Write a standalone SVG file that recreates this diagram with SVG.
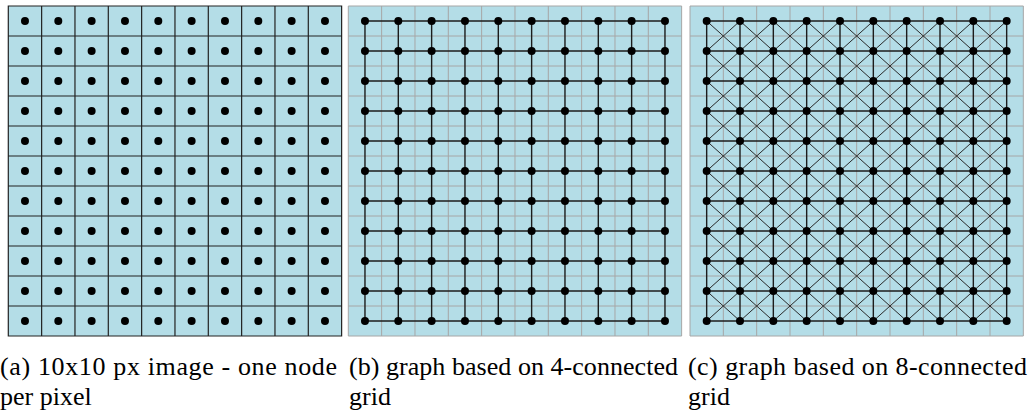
<svg xmlns="http://www.w3.org/2000/svg" width="1029" height="416" viewBox="0 0 1029 416">
<style>
  .bg { fill: #b4dde7; }
  .pix { fill: none; stroke: #222; stroke-width: 1.2; }
  .grid { fill: none; stroke: #a6a6a6; stroke-width: 1; }
  .edge { fill: none; stroke: #1c1c1c; stroke-width: 1.4; }
  .diag { fill: none; stroke: #2a2a2a; stroke-width: 1; }
  circle { fill: #000; }
  .cap { font-family: 'Liberation Serif', 'Times New Roman', Times, serif; font-size: 26px; fill: #000; }
</style>
<defs>
  <!-- cell boundaries of a 10 x 11 lattice, cells 33.33 x 30 -->
  <path id="cells" d="M0,0H333.33V330H0Z M33.33,0V330 M66.67,0V330 M100,0V330 M133.33,0V330 M166.67,0V330 M200,0V330 M233.33,0V330 M266.67,0V330 M300,0V330 M0,30H333.33 M0,60H333.33 M0,90H333.33 M0,120H333.33 M0,150H333.33 M0,180H333.33 M0,210H333.33 M0,240H333.33 M0,270H333.33 M0,300H333.33"/>
  <!-- straight rows and columns through the cell centres -->
  <path id="ortho" d="M16.67,15H316.67 M16.67,45H316.67 M16.67,75H316.67 M16.67,105H316.67 M16.67,135H316.67 M16.67,165H316.67 M16.67,195H316.67 M16.67,225H316.67 M16.67,255H316.67 M16.67,285H316.67 M16.67,315H316.67 M16.67,15V315 M50,15V315 M83.33,15V315 M116.67,15V315 M150,15V315 M183.33,15V315 M216.67,15V315 M250,15V315 M283.33,15V315 M316.67,15V315"/>
</defs>

<!-- (a) pixel image, one node per pixel -->
<g id="panel-a" transform="translate(8.3,6)">
  <rect class="bg" width="333.33" height="330"/>
  <use href="#cells" class="pix"/>
  <g id="a-nodes">
    <g id="a-r0" transform="translate(0,15)"><circle id="a0-0" cx="16.67" r="4"/><circle id="a0-1" cx="50" r="4"/><circle id="a0-2" cx="83.33" r="4"/><circle id="a0-3" cx="116.67" r="4"/><circle id="a0-4" cx="150" r="4"/><circle id="a0-5" cx="183.33" r="4"/><circle id="a0-6" cx="216.67" r="4"/><circle id="a0-7" cx="250" r="4"/><circle id="a0-8" cx="283.33" r="4"/><circle id="a0-9" cx="316.67" r="4"/></g>
    <g id="a-r1" transform="translate(0,45)"><circle id="a1-0" cx="16.67" r="4"/><circle id="a1-1" cx="50" r="4"/><circle id="a1-2" cx="83.33" r="4"/><circle id="a1-3" cx="116.67" r="4"/><circle id="a1-4" cx="150" r="4"/><circle id="a1-5" cx="183.33" r="4"/><circle id="a1-6" cx="216.67" r="4"/><circle id="a1-7" cx="250" r="4"/><circle id="a1-8" cx="283.33" r="4"/><circle id="a1-9" cx="316.67" r="4"/></g>
    <g id="a-r2" transform="translate(0,75)"><circle id="a2-0" cx="16.67" r="4"/><circle id="a2-1" cx="50" r="4"/><circle id="a2-2" cx="83.33" r="4"/><circle id="a2-3" cx="116.67" r="4"/><circle id="a2-4" cx="150" r="4"/><circle id="a2-5" cx="183.33" r="4"/><circle id="a2-6" cx="216.67" r="4"/><circle id="a2-7" cx="250" r="4"/><circle id="a2-8" cx="283.33" r="4"/><circle id="a2-9" cx="316.67" r="4"/></g>
    <g id="a-r3" transform="translate(0,105)"><circle id="a3-0" cx="16.67" r="4"/><circle id="a3-1" cx="50" r="4"/><circle id="a3-2" cx="83.33" r="4"/><circle id="a3-3" cx="116.67" r="4"/><circle id="a3-4" cx="150" r="4"/><circle id="a3-5" cx="183.33" r="4"/><circle id="a3-6" cx="216.67" r="4"/><circle id="a3-7" cx="250" r="4"/><circle id="a3-8" cx="283.33" r="4"/><circle id="a3-9" cx="316.67" r="4"/></g>
    <g id="a-r4" transform="translate(0,135)"><circle id="a4-0" cx="16.67" r="4"/><circle id="a4-1" cx="50" r="4"/><circle id="a4-2" cx="83.33" r="4"/><circle id="a4-3" cx="116.67" r="4"/><circle id="a4-4" cx="150" r="4"/><circle id="a4-5" cx="183.33" r="4"/><circle id="a4-6" cx="216.67" r="4"/><circle id="a4-7" cx="250" r="4"/><circle id="a4-8" cx="283.33" r="4"/><circle id="a4-9" cx="316.67" r="4"/></g>
    <g id="a-r5" transform="translate(0,165)"><circle id="a5-0" cx="16.67" r="4"/><circle id="a5-1" cx="50" r="4"/><circle id="a5-2" cx="83.33" r="4"/><circle id="a5-3" cx="116.67" r="4"/><circle id="a5-4" cx="150" r="4"/><circle id="a5-5" cx="183.33" r="4"/><circle id="a5-6" cx="216.67" r="4"/><circle id="a5-7" cx="250" r="4"/><circle id="a5-8" cx="283.33" r="4"/><circle id="a5-9" cx="316.67" r="4"/></g>
    <g id="a-r6" transform="translate(0,195)"><circle id="a6-0" cx="16.67" r="4"/><circle id="a6-1" cx="50" r="4"/><circle id="a6-2" cx="83.33" r="4"/><circle id="a6-3" cx="116.67" r="4"/><circle id="a6-4" cx="150" r="4"/><circle id="a6-5" cx="183.33" r="4"/><circle id="a6-6" cx="216.67" r="4"/><circle id="a6-7" cx="250" r="4"/><circle id="a6-8" cx="283.33" r="4"/><circle id="a6-9" cx="316.67" r="4"/></g>
    <g id="a-r7" transform="translate(0,225)"><circle id="a7-0" cx="16.67" r="4"/><circle id="a7-1" cx="50" r="4"/><circle id="a7-2" cx="83.33" r="4"/><circle id="a7-3" cx="116.67" r="4"/><circle id="a7-4" cx="150" r="4"/><circle id="a7-5" cx="183.33" r="4"/><circle id="a7-6" cx="216.67" r="4"/><circle id="a7-7" cx="250" r="4"/><circle id="a7-8" cx="283.33" r="4"/><circle id="a7-9" cx="316.67" r="4"/></g>
    <g id="a-r8" transform="translate(0,255)"><circle id="a8-0" cx="16.67" r="4"/><circle id="a8-1" cx="50" r="4"/><circle id="a8-2" cx="83.33" r="4"/><circle id="a8-3" cx="116.67" r="4"/><circle id="a8-4" cx="150" r="4"/><circle id="a8-5" cx="183.33" r="4"/><circle id="a8-6" cx="216.67" r="4"/><circle id="a8-7" cx="250" r="4"/><circle id="a8-8" cx="283.33" r="4"/><circle id="a8-9" cx="316.67" r="4"/></g>
    <g id="a-r9" transform="translate(0,285)"><circle id="a9-0" cx="16.67" r="4"/><circle id="a9-1" cx="50" r="4"/><circle id="a9-2" cx="83.33" r="4"/><circle id="a9-3" cx="116.67" r="4"/><circle id="a9-4" cx="150" r="4"/><circle id="a9-5" cx="183.33" r="4"/><circle id="a9-6" cx="216.67" r="4"/><circle id="a9-7" cx="250" r="4"/><circle id="a9-8" cx="283.33" r="4"/><circle id="a9-9" cx="316.67" r="4"/></g>
    <g id="a-r10" transform="translate(0,315)"><circle id="a10-0" cx="16.67" r="4"/><circle id="a10-1" cx="50" r="4"/><circle id="a10-2" cx="83.33" r="4"/><circle id="a10-3" cx="116.67" r="4"/><circle id="a10-4" cx="150" r="4"/><circle id="a10-5" cx="183.33" r="4"/><circle id="a10-6" cx="216.67" r="4"/><circle id="a10-7" cx="250" r="4"/><circle id="a10-8" cx="283.33" r="4"/><circle id="a10-9" cx="316.67" r="4"/></g>
  </g>
</g>

<!-- (b) 4-connected grid graph -->
<g id="panel-b" transform="translate(348.3,6)">
  <rect class="bg" width="333.33" height="330"/>
  <use href="#cells" class="grid"/>
  <g id="b-connectors">
    <use href="#ortho" class="edge"/>
  </g>
  <g id="b-nodes">
    <g id="b-r0" transform="translate(0,15)"><circle id="b0-0" cx="16.67" r="4"/><circle id="b0-1" cx="50" r="4"/><circle id="b0-2" cx="83.33" r="4"/><circle id="b0-3" cx="116.67" r="4"/><circle id="b0-4" cx="150" r="4"/><circle id="b0-5" cx="183.33" r="4"/><circle id="b0-6" cx="216.67" r="4"/><circle id="b0-7" cx="250" r="4"/><circle id="b0-8" cx="283.33" r="4"/><circle id="b0-9" cx="316.67" r="4"/></g>
    <g id="b-r1" transform="translate(0,45)"><circle id="b1-0" cx="16.67" r="4"/><circle id="b1-1" cx="50" r="4"/><circle id="b1-2" cx="83.33" r="4"/><circle id="b1-3" cx="116.67" r="4"/><circle id="b1-4" cx="150" r="4"/><circle id="b1-5" cx="183.33" r="4"/><circle id="b1-6" cx="216.67" r="4"/><circle id="b1-7" cx="250" r="4"/><circle id="b1-8" cx="283.33" r="4"/><circle id="b1-9" cx="316.67" r="4"/></g>
    <g id="b-r2" transform="translate(0,75)"><circle id="b2-0" cx="16.67" r="4"/><circle id="b2-1" cx="50" r="4"/><circle id="b2-2" cx="83.33" r="4"/><circle id="b2-3" cx="116.67" r="4"/><circle id="b2-4" cx="150" r="4"/><circle id="b2-5" cx="183.33" r="4"/><circle id="b2-6" cx="216.67" r="4"/><circle id="b2-7" cx="250" r="4"/><circle id="b2-8" cx="283.33" r="4"/><circle id="b2-9" cx="316.67" r="4"/></g>
    <g id="b-r3" transform="translate(0,105)"><circle id="b3-0" cx="16.67" r="4"/><circle id="b3-1" cx="50" r="4"/><circle id="b3-2" cx="83.33" r="4"/><circle id="b3-3" cx="116.67" r="4"/><circle id="b3-4" cx="150" r="4"/><circle id="b3-5" cx="183.33" r="4"/><circle id="b3-6" cx="216.67" r="4"/><circle id="b3-7" cx="250" r="4"/><circle id="b3-8" cx="283.33" r="4"/><circle id="b3-9" cx="316.67" r="4"/></g>
    <g id="b-r4" transform="translate(0,135)"><circle id="b4-0" cx="16.67" r="4"/><circle id="b4-1" cx="50" r="4"/><circle id="b4-2" cx="83.33" r="4"/><circle id="b4-3" cx="116.67" r="4"/><circle id="b4-4" cx="150" r="4"/><circle id="b4-5" cx="183.33" r="4"/><circle id="b4-6" cx="216.67" r="4"/><circle id="b4-7" cx="250" r="4"/><circle id="b4-8" cx="283.33" r="4"/><circle id="b4-9" cx="316.67" r="4"/></g>
    <g id="b-r5" transform="translate(0,165)"><circle id="b5-0" cx="16.67" r="4"/><circle id="b5-1" cx="50" r="4"/><circle id="b5-2" cx="83.33" r="4"/><circle id="b5-3" cx="116.67" r="4"/><circle id="b5-4" cx="150" r="4"/><circle id="b5-5" cx="183.33" r="4"/><circle id="b5-6" cx="216.67" r="4"/><circle id="b5-7" cx="250" r="4"/><circle id="b5-8" cx="283.33" r="4"/><circle id="b5-9" cx="316.67" r="4"/></g>
    <g id="b-r6" transform="translate(0,195)"><circle id="b6-0" cx="16.67" r="4"/><circle id="b6-1" cx="50" r="4"/><circle id="b6-2" cx="83.33" r="4"/><circle id="b6-3" cx="116.67" r="4"/><circle id="b6-4" cx="150" r="4"/><circle id="b6-5" cx="183.33" r="4"/><circle id="b6-6" cx="216.67" r="4"/><circle id="b6-7" cx="250" r="4"/><circle id="b6-8" cx="283.33" r="4"/><circle id="b6-9" cx="316.67" r="4"/></g>
    <g id="b-r7" transform="translate(0,225)"><circle id="b7-0" cx="16.67" r="4"/><circle id="b7-1" cx="50" r="4"/><circle id="b7-2" cx="83.33" r="4"/><circle id="b7-3" cx="116.67" r="4"/><circle id="b7-4" cx="150" r="4"/><circle id="b7-5" cx="183.33" r="4"/><circle id="b7-6" cx="216.67" r="4"/><circle id="b7-7" cx="250" r="4"/><circle id="b7-8" cx="283.33" r="4"/><circle id="b7-9" cx="316.67" r="4"/></g>
    <g id="b-r8" transform="translate(0,255)"><circle id="b8-0" cx="16.67" r="4"/><circle id="b8-1" cx="50" r="4"/><circle id="b8-2" cx="83.33" r="4"/><circle id="b8-3" cx="116.67" r="4"/><circle id="b8-4" cx="150" r="4"/><circle id="b8-5" cx="183.33" r="4"/><circle id="b8-6" cx="216.67" r="4"/><circle id="b8-7" cx="250" r="4"/><circle id="b8-8" cx="283.33" r="4"/><circle id="b8-9" cx="316.67" r="4"/></g>
    <g id="b-r9" transform="translate(0,285)"><circle id="b9-0" cx="16.67" r="4"/><circle id="b9-1" cx="50" r="4"/><circle id="b9-2" cx="83.33" r="4"/><circle id="b9-3" cx="116.67" r="4"/><circle id="b9-4" cx="150" r="4"/><circle id="b9-5" cx="183.33" r="4"/><circle id="b9-6" cx="216.67" r="4"/><circle id="b9-7" cx="250" r="4"/><circle id="b9-8" cx="283.33" r="4"/><circle id="b9-9" cx="316.67" r="4"/></g>
    <g id="b-r10" transform="translate(0,315)"><circle id="b10-0" cx="16.67" r="4"/><circle id="b10-1" cx="50" r="4"/><circle id="b10-2" cx="83.33" r="4"/><circle id="b10-3" cx="116.67" r="4"/><circle id="b10-4" cx="150" r="4"/><circle id="b10-5" cx="183.33" r="4"/><circle id="b10-6" cx="216.67" r="4"/><circle id="b10-7" cx="250" r="4"/><circle id="b10-8" cx="283.33" r="4"/><circle id="b10-9" cx="316.67" r="4"/></g>
  </g>
</g>

<!-- (c) 8-connected grid graph -->
<g id="panel-c" transform="translate(690,6)">
  <rect class="bg" width="333.33" height="330"/>
  <use href="#cells" class="grid"/>
  <g id="c-connectors">
    <path class="diag" d="M16.67,15L316.67,285 M50,15L316.67,255 M83.33,15L316.67,225 M116.67,15L316.67,195 M150,15L316.67,165 M183.33,15L316.67,135 M216.67,15L316.67,105 M250,15L316.67,75 M283.33,15L316.67,45 M16.67,45L316.67,315 M16.67,75L283.33,315 M16.67,105L250,315 M16.67,135L216.67,315 M16.67,165L183.33,315 M16.67,195L150,315 M16.67,225L116.67,315 M16.67,255L83.33,315 M16.67,285L50,315"/>
    <path class="diag" d="M50,15L16.67,45 M83.33,15L16.67,75 M116.67,15L16.67,105 M150,15L16.67,135 M183.33,15L16.67,165 M216.67,15L16.67,195 M250,15L16.67,225 M283.33,15L16.67,255 M316.67,15L16.67,285 M316.67,45L16.67,315 M316.67,75L50,315 M316.67,105L83.33,315 M316.67,135L116.67,315 M316.67,165L150,315 M316.67,195L183.33,315 M316.67,225L216.67,315 M316.67,255L250,315 M316.67,285L283.33,315"/>
    <use href="#ortho" class="edge"/>
  </g>
  <g id="c-nodes">
    <g id="c-r0" transform="translate(0,15)"><circle id="c0-0" cx="16.67" r="4"/><circle id="c0-1" cx="50" r="4"/><circle id="c0-2" cx="83.33" r="4"/><circle id="c0-3" cx="116.67" r="4"/><circle id="c0-4" cx="150" r="4"/><circle id="c0-5" cx="183.33" r="4"/><circle id="c0-6" cx="216.67" r="4"/><circle id="c0-7" cx="250" r="4"/><circle id="c0-8" cx="283.33" r="4"/><circle id="c0-9" cx="316.67" r="4"/></g>
    <g id="c-r1" transform="translate(0,45)"><circle id="c1-0" cx="16.67" r="4"/><circle id="c1-1" cx="50" r="4"/><circle id="c1-2" cx="83.33" r="4"/><circle id="c1-3" cx="116.67" r="4"/><circle id="c1-4" cx="150" r="4"/><circle id="c1-5" cx="183.33" r="4"/><circle id="c1-6" cx="216.67" r="4"/><circle id="c1-7" cx="250" r="4"/><circle id="c1-8" cx="283.33" r="4"/><circle id="c1-9" cx="316.67" r="4"/></g>
    <g id="c-r2" transform="translate(0,75)"><circle id="c2-0" cx="16.67" r="4"/><circle id="c2-1" cx="50" r="4"/><circle id="c2-2" cx="83.33" r="4"/><circle id="c2-3" cx="116.67" r="4"/><circle id="c2-4" cx="150" r="4"/><circle id="c2-5" cx="183.33" r="4"/><circle id="c2-6" cx="216.67" r="4"/><circle id="c2-7" cx="250" r="4"/><circle id="c2-8" cx="283.33" r="4"/><circle id="c2-9" cx="316.67" r="4"/></g>
    <g id="c-r3" transform="translate(0,105)"><circle id="c3-0" cx="16.67" r="4"/><circle id="c3-1" cx="50" r="4"/><circle id="c3-2" cx="83.33" r="4"/><circle id="c3-3" cx="116.67" r="4"/><circle id="c3-4" cx="150" r="4"/><circle id="c3-5" cx="183.33" r="4"/><circle id="c3-6" cx="216.67" r="4"/><circle id="c3-7" cx="250" r="4"/><circle id="c3-8" cx="283.33" r="4"/><circle id="c3-9" cx="316.67" r="4"/></g>
    <g id="c-r4" transform="translate(0,135)"><circle id="c4-0" cx="16.67" r="4"/><circle id="c4-1" cx="50" r="4"/><circle id="c4-2" cx="83.33" r="4"/><circle id="c4-3" cx="116.67" r="4"/><circle id="c4-4" cx="150" r="4"/><circle id="c4-5" cx="183.33" r="4"/><circle id="c4-6" cx="216.67" r="4"/><circle id="c4-7" cx="250" r="4"/><circle id="c4-8" cx="283.33" r="4"/><circle id="c4-9" cx="316.67" r="4"/></g>
    <g id="c-r5" transform="translate(0,165)"><circle id="c5-0" cx="16.67" r="4"/><circle id="c5-1" cx="50" r="4"/><circle id="c5-2" cx="83.33" r="4"/><circle id="c5-3" cx="116.67" r="4"/><circle id="c5-4" cx="150" r="4"/><circle id="c5-5" cx="183.33" r="4"/><circle id="c5-6" cx="216.67" r="4"/><circle id="c5-7" cx="250" r="4"/><circle id="c5-8" cx="283.33" r="4"/><circle id="c5-9" cx="316.67" r="4"/></g>
    <g id="c-r6" transform="translate(0,195)"><circle id="c6-0" cx="16.67" r="4"/><circle id="c6-1" cx="50" r="4"/><circle id="c6-2" cx="83.33" r="4"/><circle id="c6-3" cx="116.67" r="4"/><circle id="c6-4" cx="150" r="4"/><circle id="c6-5" cx="183.33" r="4"/><circle id="c6-6" cx="216.67" r="4"/><circle id="c6-7" cx="250" r="4"/><circle id="c6-8" cx="283.33" r="4"/><circle id="c6-9" cx="316.67" r="4"/></g>
    <g id="c-r7" transform="translate(0,225)"><circle id="c7-0" cx="16.67" r="4"/><circle id="c7-1" cx="50" r="4"/><circle id="c7-2" cx="83.33" r="4"/><circle id="c7-3" cx="116.67" r="4"/><circle id="c7-4" cx="150" r="4"/><circle id="c7-5" cx="183.33" r="4"/><circle id="c7-6" cx="216.67" r="4"/><circle id="c7-7" cx="250" r="4"/><circle id="c7-8" cx="283.33" r="4"/><circle id="c7-9" cx="316.67" r="4"/></g>
    <g id="c-r8" transform="translate(0,255)"><circle id="c8-0" cx="16.67" r="4"/><circle id="c8-1" cx="50" r="4"/><circle id="c8-2" cx="83.33" r="4"/><circle id="c8-3" cx="116.67" r="4"/><circle id="c8-4" cx="150" r="4"/><circle id="c8-5" cx="183.33" r="4"/><circle id="c8-6" cx="216.67" r="4"/><circle id="c8-7" cx="250" r="4"/><circle id="c8-8" cx="283.33" r="4"/><circle id="c8-9" cx="316.67" r="4"/></g>
    <g id="c-r9" transform="translate(0,285)"><circle id="c9-0" cx="16.67" r="4"/><circle id="c9-1" cx="50" r="4"/><circle id="c9-2" cx="83.33" r="4"/><circle id="c9-3" cx="116.67" r="4"/><circle id="c9-4" cx="150" r="4"/><circle id="c9-5" cx="183.33" r="4"/><circle id="c9-6" cx="216.67" r="4"/><circle id="c9-7" cx="250" r="4"/><circle id="c9-8" cx="283.33" r="4"/><circle id="c9-9" cx="316.67" r="4"/></g>
    <g id="c-r10" transform="translate(0,315)"><circle id="c10-0" cx="16.67" r="4"/><circle id="c10-1" cx="50" r="4"/><circle id="c10-2" cx="83.33" r="4"/><circle id="c10-3" cx="116.67" r="4"/><circle id="c10-4" cx="150" r="4"/><circle id="c10-5" cx="183.33" r="4"/><circle id="c10-6" cx="216.67" r="4"/><circle id="c10-7" cx="250" r="4"/><circle id="c10-8" cx="283.33" r="4"/><circle id="c10-9" cx="316.67" r="4"/></g>
  </g>
</g>

<!-- sub-figure captions -->
<g id="captions" class="cap" font-family="Liberation Serif, serif" font-size="26">
  <text x="0" y="375" textLength="337" lengthAdjust="spacing">(a) 10x10 px image - one node</text>
  <text x="0" y="405">per pixel</text>
  <text x="349" y="375" textLength="329" lengthAdjust="spacing">(b) graph based on 4-connected</text>
  <text x="349" y="405">grid</text>
  <text x="688" y="375" textLength="339" lengthAdjust="spacing">(c) graph based on 8-connected</text>
  <text x="688" y="405">grid</text>
</g>
</svg>
